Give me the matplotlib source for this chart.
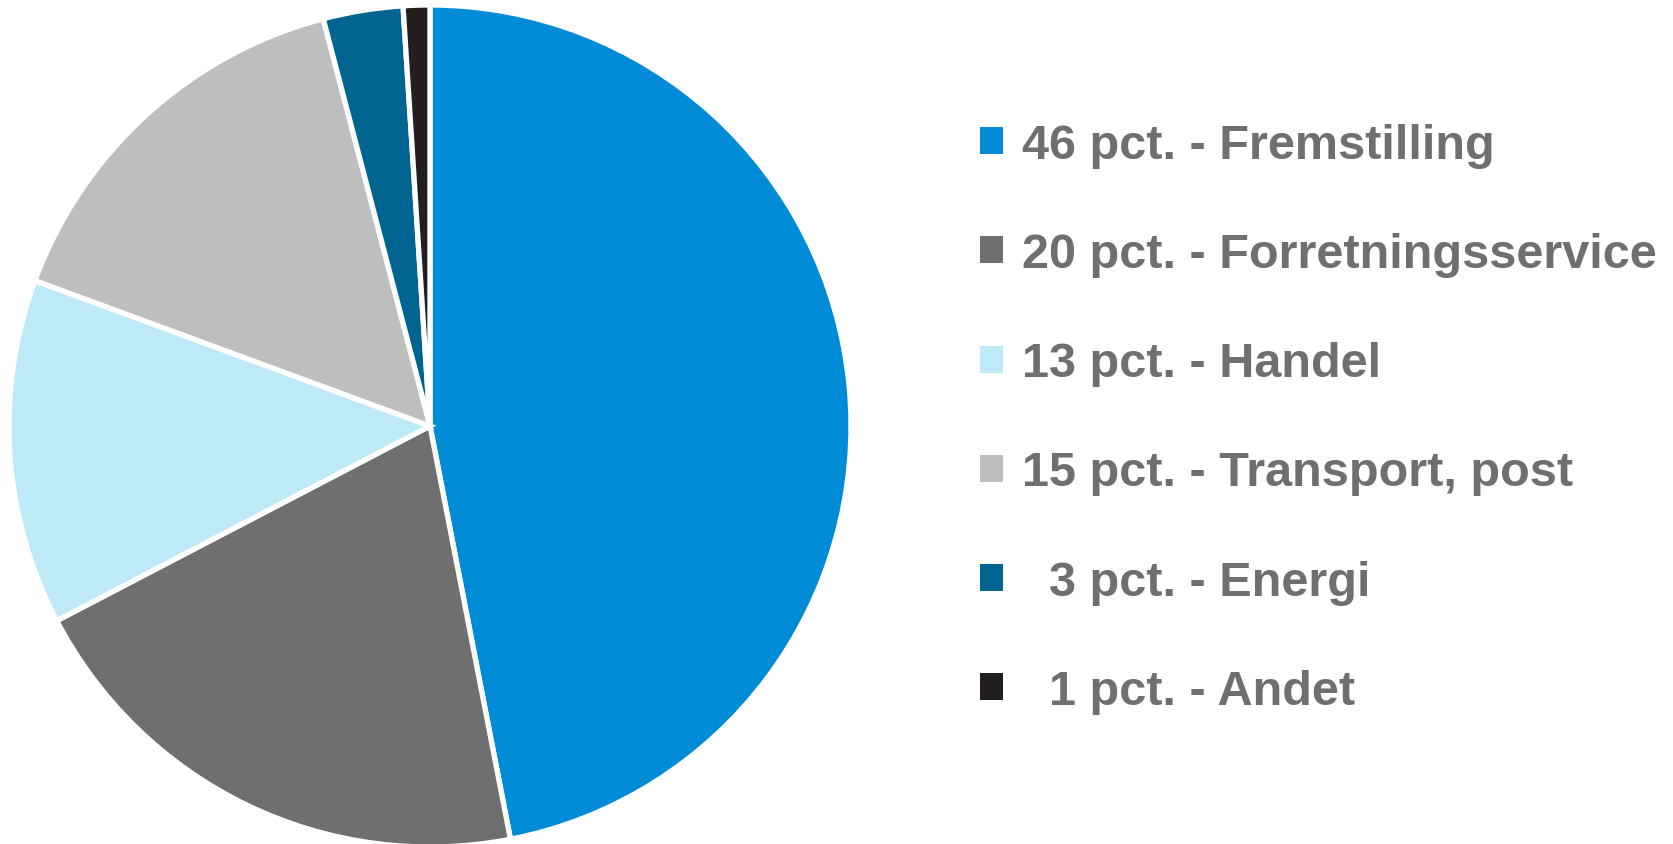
import matplotlib
matplotlib.use("Agg")
import matplotlib.pyplot as plt
from matplotlib.patches import Patch

# values (pct.)
categories = ["Fremstilling", "Forretningsservice", "Handel", "Transport, post", "Energi", "Andet"]
shares = [46, 20, 13, 15, 3, 1]
legend_labels = [
    "46 pct. - Fremstilling",
    "20 pct. - Forretningsservice",
    "13 pct. - Handel",
    "15 pct. - Transport, post",
    "  3 pct. - Energi",
    "  1 pct. - Andet",
]
colors = ["#008BD6", "#6F6F6F", "#BEEAF8", "#BEBEBE", "#006491", "#231F20"]

plt.rcParams['font.family'] = ['Liberation Sans', 'DejaVu Sans']

fig = plt.figure(figsize=(16.73, 8.45), dpi=100)
W, H = 1673, 845
# pie centre ~ (430, 427) px, radius ~421 px
ax = fig.add_axes([9 / W, (H - 848) / H, 842 / W, 842 / H])
ax.pie(shares, colors=colors, startangle=90, counterclock=False,
       wedgeprops=dict(edgecolor="white", linewidth=3.8))
ax.set_xlim(-1, 1)
ax.set_ylim(-1, 1)
ax.set_aspect("equal")
ax.axis("off")

handles = [Patch(facecolor=c, edgecolor="none") for c in colors]
leg = fig.legend(handles, legend_labels, loc="upper left",
                 bbox_to_anchor=(980 / W, 1 - 124 / H), frameon=False,
                 prop=dict(family="Liberation Sans", weight="bold", size=35),
                 handlelength=0.48, handleheight=0.48, handletextpad=0.38,
                 labelspacing=1.32, borderpad=0, borderaxespad=0)
for t in leg.get_texts():
    t.set_color("#6F6F6F")

fig.savefig("out.png", dpi=100, facecolor="white")
